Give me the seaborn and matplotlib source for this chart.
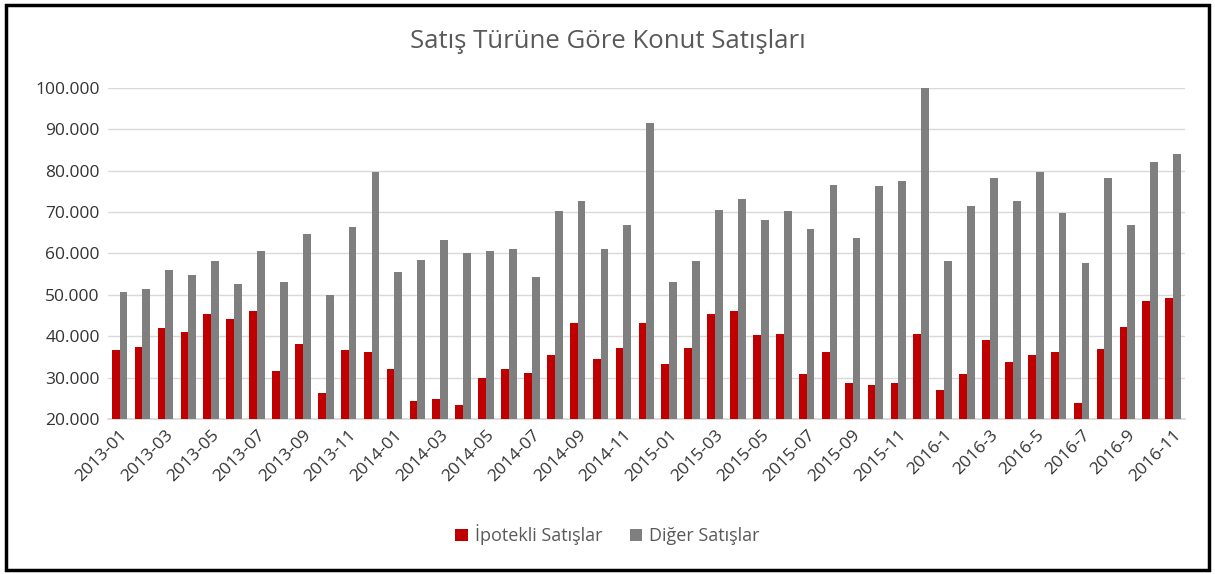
import pandas as pd
import numpy as np
import matplotlib.pyplot as plt
import seaborn as sns
from matplotlib.patches import Rectangle

months = (["2013-%02d" % m for m in range(1, 13)]
          + ["2014-%02d" % m for m in range(1, 13)]
          + ["2015-%02d" % m for m in range(1, 13)]
          + ["2016-%d" % m for m in range(1, 12)])

ipotekli = [36.7, 37.3, 41.9, 41.0, 45.3, 44.1, 46.2, 31.6, 38.1, 26.4, 36.7, 36.3,
            32.0, 24.4, 24.8, 23.5, 29.8, 32.0, 31.1, 35.5, 43.1, 34.6, 37.2, 43.1,
            33.3, 37.2, 45.3, 46.2, 40.2, 40.6, 30.8, 36.3, 28.6, 28.2, 28.6, 40.6,
            26.9, 30.8, 39.0, 33.7, 35.5, 36.3, 23.9, 36.8, 42.3, 48.4, 49.2]
diger = [50.8, 51.3, 56.0, 54.7, 58.1, 52.6, 60.7, 53.0, 64.6, 50.0, 66.3, 79.6,
         55.6, 58.5, 63.3, 60.2, 60.7, 61.1, 54.3, 70.2, 72.7, 61.1, 66.8, 91.6,
         53.0, 58.1, 70.6, 73.1, 68.0, 70.2, 65.9, 76.6, 63.7, 76.2, 77.4, 100.5,
         58.1, 71.5, 78.3, 72.7, 79.6, 69.8, 57.7, 78.3, 66.8, 82.2, 83.9]

series_names = ["İpotekli Satışlar", "Diğer Satışlar"]
yticks = [20000, 30000, 40000, 50000, 60000, 70000, 80000, 90000, 100000]

df = pd.concat([
    pd.DataFrame({"ay": months, "satis": np.array(ipotekli) * 1000, "tur": series_names[0]}),
    pd.DataFrame({"ay": months, "satis": np.array(diger) * 1000, "tur": series_names[1]}),
], ignore_index=True)

sns.set_theme(style="white")
plt.rcParams["font.family"] = ["Open Sans", "DejaVu Sans"]

fig = plt.figure(figsize=(12.15, 5.74), dpi=100)
ax = fig.add_axes([0.089, 0.27, 0.886, 0.577])

colors = {series_names[0]: "#C00000", series_names[1]: "#7F7F7F"}
sns.barplot(data=df, x="ay", y="satis", hue="tur", palette=colors, width=0.68,
            saturation=1, linewidth=0, ax=ax, zorder=3)

ax.set_ylim(20000, 100000)
ax.set_yticks(yticks)
ax.set_yticklabels([f"{v:,}".replace(",", ".") for v in yticks], fontsize=12.5, color="#333333")
ax.yaxis.grid(True, color="#D9D9D9", linewidth=1, zorder=0)
ax.set_axisbelow(True)

pos = np.arange(0, len(months), 2)
ax.set_xticks(pos)
ax.set_xticklabels([months[i] for i in pos], rotation=45, ha="right",
                   rotation_mode="anchor", fontsize=12.5, color="#333333")
ax.set_xlim(-0.5, len(months) - 0.5)
ax.set_xlabel("")
ax.set_ylabel("")
ax.tick_params(axis="both", length=0, pad=6)

for s in ["top", "right", "left"]:
    ax.spines[s].set_visible(False)
ax.spines["bottom"].set_color("#D9D9D9")

handles, labels = ax.get_legend_handles_labels()
ax.get_legend().remove()
fig.legend(handles, labels, loc="center", bbox_to_anchor=(0.5, 0.068), ncol=2,
           frameon=False, fontsize=13, handlelength=0.7, handleheight=0.7,
           columnspacing=1.5, handletextpad=0.4, labelcolor="#595959")

fig.suptitle("Satış Türüne Göre Konut Satışları", y=0.95, fontsize=18.5, color="#595959")

fig.patches.append(Rectangle((0.005, 0.007), 0.99, 0.985, transform=fig.transFigure,
                             fill=False, edgecolor="black", linewidth=2.5))

fig.savefig("out.png", dpi=100)
